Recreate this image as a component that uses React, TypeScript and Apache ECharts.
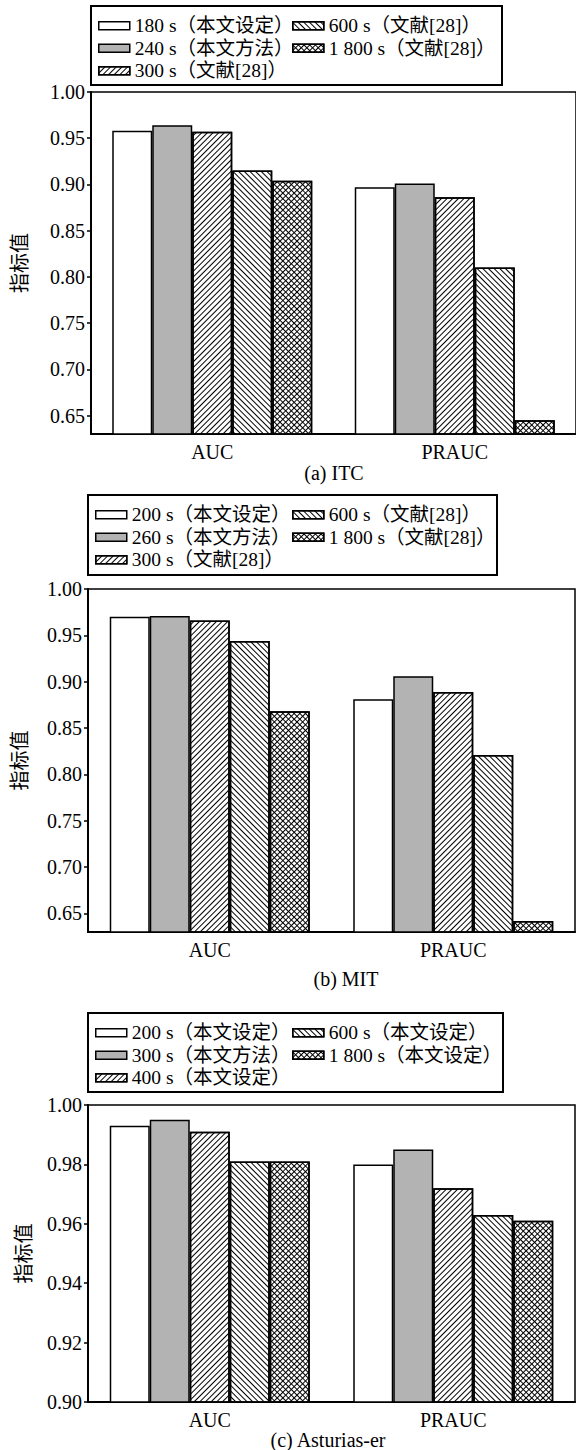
import React, { useEffect, useRef } from "react";
import * as echarts from "echarts";

const categories = ["AUC", "PRAUC"];

const namesA = ["180 s（本文设定）", "240 s（本文方法）", "300 s（文献[28]）", "600 s（文献[28]）", "1 800 s（文献[28]）"];
const valuesA = [
  [0.958, 0.897],
  [0.964, 0.901],
  [0.957, 0.886],
  [0.915, 0.81],
  [0.904, 0.645],
];

const namesB = ["200 s（本文设定）", "260 s（本文方法）", "300 s（文献[28]）", "600 s（文献[28]）", "1 800 s（文献[28]）"];
const valuesB = [
  [0.97, 0.881],
  [0.971, 0.906],
  [0.966, 0.889],
  [0.944, 0.821],
  [0.868, 0.642],
];

const namesC = ["200 s（本文设定）", "300 s（本文方法）", "400 s（本文设定）", "600 s（本文设定）", "1 800 s（本文设定）"];
const valuesC = [
  [0.993, 0.98],
  [0.995, 0.985],
  [0.991, 0.972],
  [0.981, 0.963],
  [0.981, 0.961],
];

const ticksAB = [0.65, 0.7, 0.75, 0.8, 0.85, 0.9, 0.95, 1.0];
const ticksC = [0.9, 0.92, 0.94, 0.96, 0.98, 1.0];

const captions = ["(a) ITC", "(b) MIT", "(c) Asturias-er"];
const yName = "指标值";

const SERIF = "'Liberation Serif', 'Noto Sans CJK SC', serif";
const CJK = "'Noto Sans CJK SC', sans-serif";

const slash = {
  symbol: "rect",
  symbolSize: 1,
  dashArrayX: [1, 0],
  dashArrayY: [1, 3],
  rotation: -Math.PI / 4,
  color: "#000",
};
const backslash = { ...slash, rotation: Math.PI / 4 };
const cross = {
  symbol: "rect",
  symbolSize: 1,
  dashArrayX: [
    [1, 0],
    [1, 3],
  ],
  dashArrayY: [1, 0, 3, 0],
  rotation: Math.PI / 4,
  color: "#000",
};

const seriesStyles = [
  { color: "#ffffff" },
  { color: "#b3b3b3" },
  { color: "#ffffff", decal: slash },
  { color: "#ffffff", decal: backslash },
  { color: "#ffffff", decal: cross },
];

const panels = [
  {
    names: namesA, values: valuesA, ticks: ticksAB, min: 0.63, max: 1.0,
    grid: { left: 91, top: 92, width: 489, height: 342 },
    legendTop: 16, col1: 98, col2: 292,
    box: { x: 91, y: 6, width: 411, height: 79 },
    caption: { x: 334, y: 473 }, nameGap: 63,
  },
  {
    names: namesB, values: valuesB, ticks: ticksAB, min: 0.63, max: 1.0,
    grid: { left: 88, top: 589, width: 487, height: 343 },
    legendTop: 505, col1: 95, col2: 292,
    box: { x: 88, y: 495, width: 409, height: 80 },
    caption: { x: 346, y: 979 }, nameGap: 60,
  },
  {
    names: namesC, values: valuesC, ticks: ticksC, min: 0.9, max: 1.0,
    grid: { left: 88, top: 1105, width: 487, height: 297 },
    legendTop: 1023, col1: 95, col2: 292,
    box: { x: 88, y: 1013, width: 415, height: 79 },
    caption: { x: 328, y: 1440 }, nameGap: 56,
  },
];

export default function App() {
  const ref = useRef<HTMLDivElement>(null);
  useEffect(() => {
    document.body.style.margin = "0";
    if (!ref.current) return;
    const chart = echarts.init(ref.current, null, { renderer: "svg" });

    const grids: any[] = [];
    const xAxes: any[] = [];
    const yAxes: any[] = [];
    const series: any[] = [];
    const legends: any[] = [];
    const graphics: any[] = [];

    panels.forEach((p, pi) => {
      grids.push({
        ...p.grid,
        show: true,
        borderColor: "#000",
        borderWidth: 1.5,
        backgroundColor: "transparent",
      });
      xAxes.push({
        type: "category",
        gridIndex: pi,
        data: categories,
        axisLine: { lineStyle: { color: "#000", width: 2 } },
        axisTick: { show: false },
        axisLabel: { color: "#000", fontSize: 20, fontFamily: SERIF, margin: 8 },
      });
      yAxes.push({
        type: "value",
        gridIndex: pi,
        min: p.min,
        max: p.max,
        name: yName,
        nameLocation: "middle",
        nameGap: p.nameGap,
        nameTextStyle: { color: "#000", fontSize: 20, fontFamily: CJK },
        axisLine: { show: true, lineStyle: { color: "#000", width: 2 } },
        axisTick: { show: true, inside: false, length: 4, customValues: p.ticks, lineStyle: { color: "#000", width: 1.5 } },
        axisLabel: {
          color: "#000",
          fontSize: 20,
          fontFamily: SERIF,
          margin: 6,
          customValues: p.ticks,
          formatter: (v: number) => v.toFixed(2),
        },
        splitLine: { show: false },
      });
      p.names.forEach((n, si) => {
        series.push({
          type: "bar",
          name: n,
          xAxisIndex: pi,
          yAxisIndex: pi,
          data: p.values[si],
          barWidth: 40,
          barGap: "0%",
          itemStyle: { ...seriesStyles[si], borderColor: "#000", borderWidth: 1.5 },
        });
      });
      const legendBase = {
        orient: "vertical",
        top: p.legendTop,
        itemWidth: 31,
        itemHeight: 8,
        itemGap: 3,
        icon: "rect",
        selectedMode: false,
        padding: 0,
        itemStyle: { borderWidth: 1.5, borderColor: "#000" },
        textStyle: { color: "#000", fontSize: 19.5, fontFamily: SERIF, padding: 0 },
      };
      legends.push({ ...legendBase, left: p.col1, data: p.names.slice(0, 3) });
      legends.push({ ...legendBase, left: p.col2, data: p.names.slice(3) });
      graphics.push({
        type: "rect",
        shape: p.box,
        style: { fill: "none", stroke: "#000", lineWidth: 2 },
      });
      graphics.push({
        type: "text",
        x: p.caption.x,
        y: p.caption.y,
        style: {
          text: captions[pi],
          font: `20px ${SERIF}`,
          fill: "#000",
          align: "center",
          verticalAlign: "middle",
        },
      });
    });

    chart.setOption({
      animation: false,
      backgroundColor: "#fff",
      grid: grids,
      xAxis: xAxes,
      yAxis: yAxes,
      series,
      legend: legends,
      graphic: graphics,
    });
    return () => chart.dispose();
  }, []);
  return <div ref={ref} style={{ width: 576, height: 1450 }} />;
}
